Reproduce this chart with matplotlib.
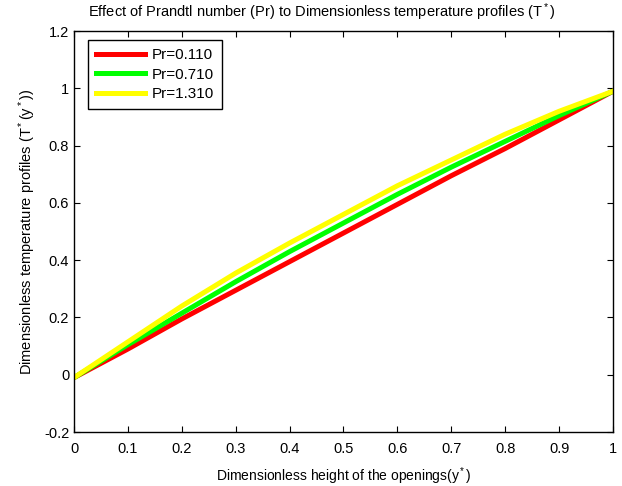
import numpy as np
import matplotlib.pyplot as plt
from matplotlib.ticker import FuncFormatter

plt.rcParams['font.family'] = ['Liberation Sans', 'DejaVu Sans']
plt.rcParams['mathtext.fontset'] = 'custom'
plt.rcParams['mathtext.rm'] = 'Liberation Sans'
plt.rcParams['mathtext.it'] = 'Liberation Sans'

ystar = np.linspace(0, 1, 11)
T_pr011 = [-0.01, 0.09, 0.195, 0.295, 0.395, 0.495, 0.595, 0.695, 0.79, 0.89, 0.99]
T_pr071 = [-0.01, 0.105, 0.215, 0.325, 0.43, 0.53, 0.63, 0.725, 0.815, 0.905, 0.99]
T_pr131 = [-0.01, 0.115, 0.24, 0.355, 0.46, 0.56, 0.66, 0.75, 0.84, 0.92, 0.99]
labels = ["Pr=0.110", "Pr=0.710", "Pr=1.310"]
colors = ["#ff0000", "#00ff00", "#ffff00"]

fig = plt.figure(figsize=(6.22, 4.86), dpi=100)
ax = fig.add_axes([0.119, 0.111, 0.8665, 0.825])

for T, lab, c in zip([T_pr011, T_pr071, T_pr131], labels, colors):
    ax.plot(ystar, T, color=c, linewidth=3.6, label=lab)

ax.set_xlim(0, 1)
ax.set_ylim(-0.2, 1.2)
ax.set_xticks(np.arange(0, 1.01, 0.1))
ax.set_yticks(np.arange(-0.2, 1.21, 0.2))
fmt = FuncFormatter(lambda v, p: "%g" % round(v, 2))
ax.xaxis.set_major_formatter(fmt)
ax.yaxis.set_major_formatter(fmt)
ax.tick_params(direction='in', top=True, right=True, labelsize=10.5, length=4)
ax.tick_params(axis='x', pad=7)
for s in ax.spines.values():
    s.set_linewidth(1.0)

ax.set_title("Effect of Prandtl number (Pr) to Dimensionless temperature profiles (T$^*$)",
             fontsize=10.5, pad=10, x=0.46)
ax.set_xlabel("Dimensionless height of the openings(y$^*$)", fontsize=10, labelpad=7)
ax.set_ylabel("Dimensionless temperature profiles (T$^*$(y$^*$))", fontsize=10.5)

leg = ax.legend(loc='upper left', bbox_to_anchor=(0.026, 0.978), borderaxespad=0,
                fontsize=11, fancybox=False, framealpha=1, edgecolor='black',
                handlelength=3.2, borderpad=0.55, handletextpad=0.4,
                labelspacing=0.35)
leg.get_frame().set_linewidth(1.0)

fig.savefig("out.png", dpi=100)
